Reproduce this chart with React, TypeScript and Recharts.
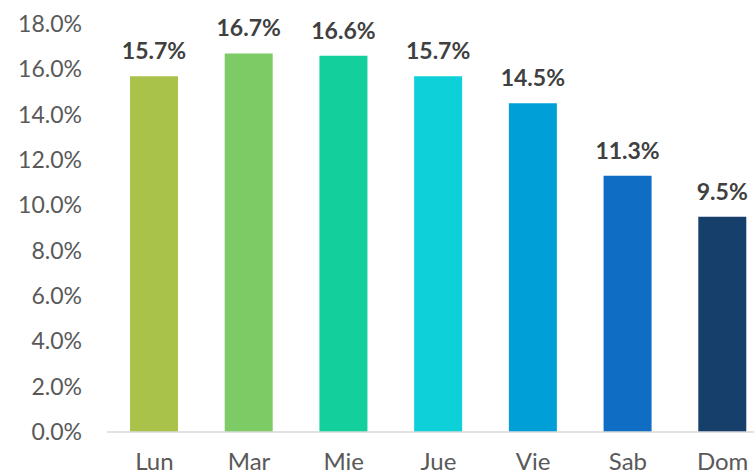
import React from 'react'
import { BarChart, Bar, XAxis, YAxis, Cell, LabelList } from 'recharts'

const days = ['Lun', 'Mar', 'Mie', 'Jue', 'Vie', 'Sab', 'Dom']
const shares = [15.7, 16.7, 16.6, 15.7, 14.5, 11.3, 9.5]
const barColors = ['#A8C24A', '#7DCB65', '#12CF9B', '#0DD0D8', '#009FD7', '#0F6DC4', '#173F6B']
const yTicks = [0, 2, 4, 6, 8, 10, 12, 14, 16, 18]

const data = days.map((day, i) => ({ day, share: shares[i] }))

const font = 'Lato, "Open Sans", sans-serif'

export default function App() {
    return (
        <div style={{ position: 'fixed', top: 0, left: 0, width: 754, height: 475, overflow: 'hidden', background: '#fff' }}>
            <BarChart
                width={770}
                height={475}
                data={data}
                margin={{ top: 24, right: 0, left: 0, bottom: 0 }}
            >
                <XAxis
                    dataKey="day"
                    height={43}
                    tickLine={false}
                    tickSize={0}
                    tickMargin={21}
                    axisLine={{ stroke: '#D9D9D9', strokeWidth: 1.5 }}
                    tick={{ fontSize: 24, fill: '#595959', fontFamily: font }}
                    interval={0}
                />
                <YAxis
                    width={107}
                    domain={[0, 18]}
                    ticks={yTicks}
                    axisLine={false}
                    tickLine={false}
                    tickSize={0}
                    tickMargin={25}
                    tickFormatter={(v: number) => `${v.toFixed(1)}%`}
                    tick={{ fontSize: 23, fill: '#595959', fontFamily: font }}
                />
                <Bar dataKey="share" barSize={48} isAnimationActive={false}>
                    {data.map((d, i) => (
                        <Cell key={d.day} fill={barColors[i]} />
                    ))}
                    <LabelList
                        dataKey="share"
                        position="top"
                        offset={17}
                        formatter={(v: number) => `${v.toFixed(1)}%`}
                        style={{ fontSize: 23, fontWeight: 700, fill: '#404040', fontFamily: font }}
                    />
                </Bar>
            </BarChart>
        </div>
    )
}
